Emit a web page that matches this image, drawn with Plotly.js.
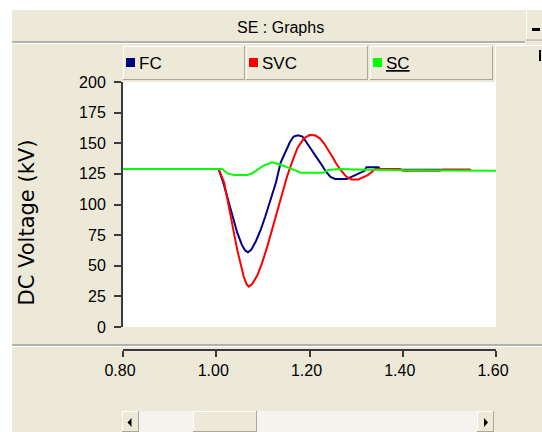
<!DOCTYPE html>
<html>
<head>
<meta charset="utf-8">
<script src="https://cdn.plot.ly/plotly-3.0.1.min.js"></script>
<style>html,body{margin:0;padding:0;background:#fff;}#chart{width:542px;height:432px;}</style>
</head>
<body>
<div id="chart"></div>
<script>
// ---- data ----
const seriesNames = ["FC", "SVC", "SC"];
const seriesColors = ["#000080", "#ff0000", "#00ff00"];

const timeFC = [0.80, 1.005, 1.015, 1.025, 1.035, 1.045, 1.055, 1.062, 1.068, 1.075, 1.085, 1.095, 1.105, 1.117, 1.128, 1.138, 1.148, 1.158, 1.166, 1.175, 1.185, 1.195, 1.205, 1.215, 1.225, 1.235, 1.245, 1.255, 1.280, 1.290, 1.305, 1.318, 1.322, 1.348, 1.352, 1.390, 1.545];
const voltFC = [129, 129, 118, 104, 90, 77, 67, 62.5, 61, 63, 70, 79, 90, 104, 118, 134, 143, 151, 155.5, 156.5, 155.5, 150, 145, 139, 133, 127, 122.5, 120.8, 120.8, 122.5, 125.5, 127.5, 130.4, 130.4, 128.5, 128.5, 128.3];

const timeSVC = [0.80, 1.005, 1.017, 1.031, 1.045, 1.059, 1.065, 1.070, 1.077, 1.088, 1.098, 1.109, 1.120, 1.131, 1.142, 1.152, 1.163, 1.174, 1.188, 1.200, 1.212, 1.222, 1.231, 1.240, 1.249, 1.258, 1.267, 1.279, 1.290, 1.305, 1.315, 1.325, 1.334, 1.341, 1.394, 1.400, 1.480, 1.485, 1.546];
const voltSVC = [129, 129, 118, 90, 63, 41, 35, 33, 35, 42, 52, 65, 80, 95, 110, 123, 135, 146, 154, 156.7, 156.5, 154, 150, 145, 139, 133, 128, 122.7, 120.5, 120.5, 122, 124, 126.8, 129, 129, 127.5, 127.5, 128.3, 128.3];

const timeSC = [0.80, 1.013, 1.024, 1.038, 1.067, 1.077, 1.088, 1.100, 1.120, 1.138, 1.159, 1.181, 1.230, 1.240, 1.262, 1.300, 1.400, 1.600];
const voltSC = [129, 129, 125.4, 124, 124, 125.5, 128.2, 131.5, 134.5, 132.5, 129.5, 126, 126, 128.2, 129, 128.5, 128, 127.5];

const xTickVals = [0.8, 1.0, 1.2, 1.4, 1.6];
const xTickText = ["0.80", "1.00", "1.20", "1.40", "1.60"];
const yTickVals = [0, 25, 50, 75, 100, 125, 150, 175, 200];

// ---- geometry helpers (pixel -> paper; paper = whole figure) ----
const W = 542, H = 432;
const PL = 123, PR = 496, PT = 82, PB = 327, XAXIS_Y = 350;
const px = x => x / W;
const py = y => 1 - y / H;

const BEIGE = "#ece9d8", GRAY = "#aca899", DARK = "#3a3a3a";
const FONT = "Liberation Sans, Arial, sans-serif";

const shapes = [];
function rect(x0, y0, x1, y1, fill) {
  shapes.push({type: "rect", xref: "paper", yref: "paper", layer: "below",
    x0: px(x0), x1: px(x1), y0: py(y0), y1: py(y1), fillcolor: fill, line: {width: 0}});
}
function seg(x0, y0, x1, y1, color, w) {
  shapes.push({type: "line", xref: "paper", yref: "paper", layer: "below",
    x0: px(x0), x1: px(x1), y0: py(y0), y1: py(y1), line: {color: color, width: w || 1}});
}
function tri(pts, color) {
  let d = "M " + pts.map(p => px(p[0]) + "," + py(p[1])).join(" L ") + " Z";
  shapes.push({type: "path", xref: "paper", yref: "paper", layer: "above", path: d,
    fillcolor: color, line: {width: 0}});
}
function bevel(x0, y0, x1, y1) {
  rect(x0, y0, x1, y1, BEIGE);
  seg(x0, y0 + 0.5, x1, y0 + 0.5, "#ffffff");
  seg(x0 + 0.5, y0, x0 + 0.5, y1, "#ffffff");
  seg(x0, y1 - 0.5, x1, y1 - 0.5, GRAY);
  seg(x1 - 0.5, y0, x1 - 0.5, y1, GRAY);
}

// window background
rect(12, 10, 542, 432, BEIGE);
// title bar separator
seg(12, 42, 525, 42, "#a0a0a0", 1.5);
seg(12, 43.5, 525, 43.5, "#ffffff");
// minimize button
seg(526.5, 10, 526.5, 40, "#ffffff");
seg(526, 40, 542, 40, GRAY);
rect(532, 28, 540, 31, "#000000");
// legend cells
const legendCells = [[123, 245], [246, 368], [370, 493]];
legendCells.forEach(c => bevel(c[0], 46, c[1], 80));
// right panel edge
seg(495, 45.5, 542, 45.5, "#ffffff");
seg(495.5, 45, 495.5, 82, "#ffffff");
rect(539, 50, 541, 61, "#000000");
// plotting area
rect(PL, PT, PR, PB, "#ffffff");
// separator above x axis
seg(12, 345, 542, 345, "#a0a0a0", 1.5);
seg(12, 346.5, 542, 346.5, "#ffffff");
// scrollbar
rect(139, 411, 477, 432, "#f4f3ee");
bevel(122, 411, 139, 432);
bevel(193, 411, 257, 432);
bevel(477, 411, 494, 432);
tri([[131.5, 418], [127.5, 422.5], [131.5, 427]], "#000000");
tri([[484, 418], [488, 422.5], [484, 427]], "#000000");
// legend colour squares
legendCells.forEach((c, i) => rect(c[0] + 3, 58, c[0] + 12, 67, seriesColors[i]));

const traces = [
  {x: timeFC, y: voltFC, name: seriesNames[0]},
  {x: timeSVC, y: voltSVC, name: seriesNames[1]},
  {x: timeSC, y: voltSC, name: seriesNames[2]}
].map((t, i) => Object.assign(t, {type: "scatter", mode: "lines",
  line: {color: seriesColors[i], width: 2}, hoverinfo: "skip", showlegend: false}));

const annotations = [
  {text: "SE : Graphs", x: px(280), y: py(28), xanchor: "center", yanchor: "middle",
   font: {family: FONT, size: 16, color: "#000"}},
  {text: "DC Voltage (kV)", x: px(26), y: py(222.5), xanchor: "center", yanchor: "middle",
   textangle: -90, font: {family: "DejaVu Sans, sans-serif", size: 21, color: "#000"}},
].concat(legendCells.map((c, i) => ({
  text: i === 2 ? "<u>" + seriesNames[i] + "</u>" : seriesNames[i],
  x: px(c[0] + 14), y: py(63), xanchor: "left", yanchor: "middle",
  font: {family: FONT, size: 17, color: "#000"}
}))).map(a => Object.assign(a, {xref: "paper", yref: "paper", showarrow: false}));

const layout = {
  width: W, height: H,
  margin: {l: 0, r: 0, t: 0, b: 0, pad: 0},
  paper_bgcolor: "#ffffff",
  plot_bgcolor: "rgba(0,0,0,0)",
  showlegend: false,
  xaxis: {range: [0.8, 1.6], domain: [px(PL), px(PR)], anchor: "free", position: py(XAXIS_Y),
    showgrid: false, zeroline: false, automargin: false,
    showline: true, linecolor: DARK, linewidth: 2, ticks: "outside", ticklen: 6, tickwidth: 2,
    tickcolor: DARK, tickvals: xTickVals, ticktext: xTickText, ticklabelshift: -3,
    tickfont: {family: FONT, size: 16, color: "#000"}, fixedrange: true},
  yaxis: {range: [0, 200], domain: [py(PB), py(PT)], anchor: "x", showgrid: false, zeroline: false,
    automargin: false,
    showline: true, linecolor: DARK, linewidth: 2, ticks: "outside", ticklen: 7, tickwidth: 2,
    tickcolor: DARK, tickvals: yTickVals, ticklabelstandoff: 5,
    tickfont: {family: FONT, size: 16, color: "#000"}, fixedrange: true},
  shapes: shapes,
  annotations: annotations
};

Plotly.newPlot("chart", traces, layout, {displayModeBar: false, staticPlot: true});
</script>
</body>
</html>
